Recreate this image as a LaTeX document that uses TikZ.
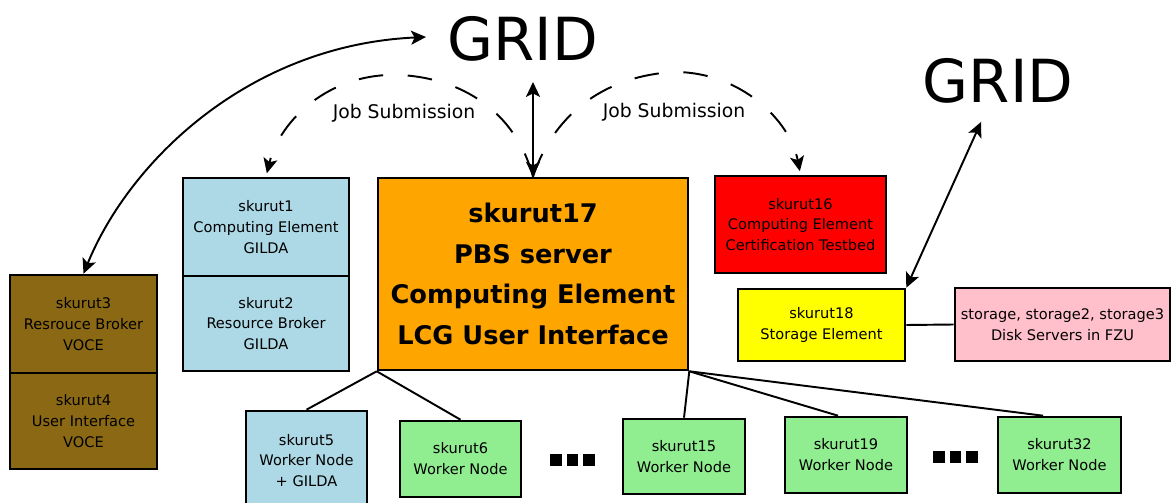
\documentclass[tikz,border=0pt]{standalone}
\usepackage{fontspec}
\setmainfont{DejaVu Sans}
\usetikzlibrary{arrows.meta}
\definecolor{brownbox}{RGB}{139,105,20}
\definecolor{bluebox}{RGB}{173,216,230}
\definecolor{orangebox}{RGB}{255,165,0}
\definecolor{redbox}{RGB}{255,0,0}
\definecolor{yellowbox}{RGB}{255,255,0}
\definecolor{pinkbox}{RGB}{255,192,203}
\definecolor{greenbox}{RGB}{144,238,144}
\begin{document}
\begin{tikzpicture}[x=0.02cm,y=-0.02cm,
  host/.style={draw=black,line width=1.5pt,align=center,inner sep=0pt,
    font=\fontsize{8.3}{11.9}\selectfont},
  mainhost/.style={host,font=\fontsize{14.6}{23.2}\selectfont\bfseries},
  gridlabel/.style={inner sep=0pt,font=\fontsize{33.8}{40}\selectfont},
  joblabel/.style={inner sep=0pt,font=\fontsize{10.7}{13}\selectfont},
  link/.style={line width=1.1pt},
  head/.tip={Stealth[length=8.5pt,width=8pt,inset=2pt]},
  tip/.style={line width=1.1pt,head-head},
  submit/.style={line width=1.1pt,dash pattern=on 14pt off 14pt,-head,shorten >=2pt},
  ellip/.style={inner sep=0pt}]
\useasboundingbox (0,0) rectangle (1172,503);

% grid clouds
\node[gridlabel] (g1) at (522.5,39) {GRID};
\node[gridlabel] (g2) at (998,81) {GRID};

% VOCE stack
\node[host,fill=brownbox,minimum width=2.94cm,minimum height=1.96cm] (s3) at (83.5,324)
  {skurut3\\Resrouce Broker\\VOCE};
\node[host,fill=brownbox,minimum width=2.94cm,minimum height=1.92cm] (s4) at (83.5,421)
  {skurut4\\User Interface\\VOCE};

% GILDA stack
\node[host,fill=bluebox,minimum width=3.32cm,minimum height=1.96cm] (s1) at (266,227)
  {skurut1\\Computing Element\\GILDA};
\node[host,fill=bluebox,minimum width=3.32cm,minimum height=1.9cm] (s2) at (266,323.5)
  {skurut2\\Resource Broker\\GILDA};

% central server
\node[mainhost,fill=orangebox,minimum width=6.2cm,minimum height=3.84cm] (s17) at (533,274)
  {skurut17\\PBS server\\Computing Element\\LCG User Interface};

% certification testbed and storage
\node[host,fill=redbox,minimum width=3.42cm,minimum height=1.94cm] (s16) at (800.5,224.5)
  {skurut16\\Computing Element\\Certification Testbed};
\node[host,fill=yellowbox,minimum width=3.34cm,minimum height=1.44cm] (s18) at (821.5,325)
  {skurut18\\Storage Element};
\node[host,fill=pinkbox,minimum width=4.3cm,minimum height=1.46cm] (st) at (1062.5,324.5)
  {storage, storage2, storage3\\Disk Servers in FZU};

% worker nodes
\node[host,fill=bluebox,minimum width=2.42cm,minimum height=1.98cm] (s5) at (306.5,460.5)
  {skurut5\\Worker Node\\+ GILDA};
\node[host,fill=greenbox,minimum width=2.42cm,minimum height=1.52cm] (s6) at (460.5,459)
  {skurut6\\Worker Node};
\node[host,fill=greenbox,minimum width=2.44cm,minimum height=1.5cm] (s15) at (684,456.5)
  {skurut15\\Worker Node};
\node[host,fill=greenbox,minimum width=2.44cm,minimum height=1.52cm] (s19) at (846,455)
  {skurut19\\Worker Node};
\node[host,fill=greenbox,minimum width=2.46cm,minimum height=1.52cm] (s32) at (1059.5,455)
  {skurut32\\Worker Node};

\node[ellip] (dotsA) at (572.5,460)
  {\rule{6.8pt}{6.8pt}\hspace{2.8pt}\rule{6.8pt}{6.8pt}\hspace{2.8pt}\rule{6.8pt}{6.8pt}};
\node[ellip] (dotsB) at (955.5,457)
  {\rule{6.8pt}{6.8pt}\hspace{2.8pt}\rule{6.8pt}{6.8pt}\hspace{2.8pt}\rule{6.8pt}{6.8pt}};

% wiring to the worker nodes
\draw[link] (s17.south west) -- (s5.north);
\draw[link] (s17.south west) -- (s6.north);
\draw[link] (s17.south east) -- (s15.north);
\draw[link] (s17.south east) -- ([xshift=-0.16cm]s19.north);
\draw[link] (s17.south east) -- ([xshift=-0.33cm]s32.north);
\draw[link] (s18.east) -- (st.west);

% grid connections
\coordinate (g1left) at (426,37);
\coordinate (g1foot) at (533,82);
\coordinate (g2foot) at (981,122);
\draw[tip] (g1left) .. controls (250,45) and (130,160) .. (s3.north);
\draw[tip] (g1foot) -- (s17.north);
\draw[tip] (g2foot) -- (s18.north east);

% job submission paths
\draw[submit] (s17.north) .. controls (515,110) and (460,78) .. (400,75)
  .. controls (330,72) and (280,120) .. (s1.north);
\draw[submit] (s17.north) .. controls (555,110) and (610,75) .. (675,72)
  .. controls (740,72) and (790,120) .. (s16.north);
\node[joblabel] (job1) at (404,113) {Job Submission};
\node[joblabel] (job2) at (674,112) {Job Submission};
\end{tikzpicture}
\end{document}
